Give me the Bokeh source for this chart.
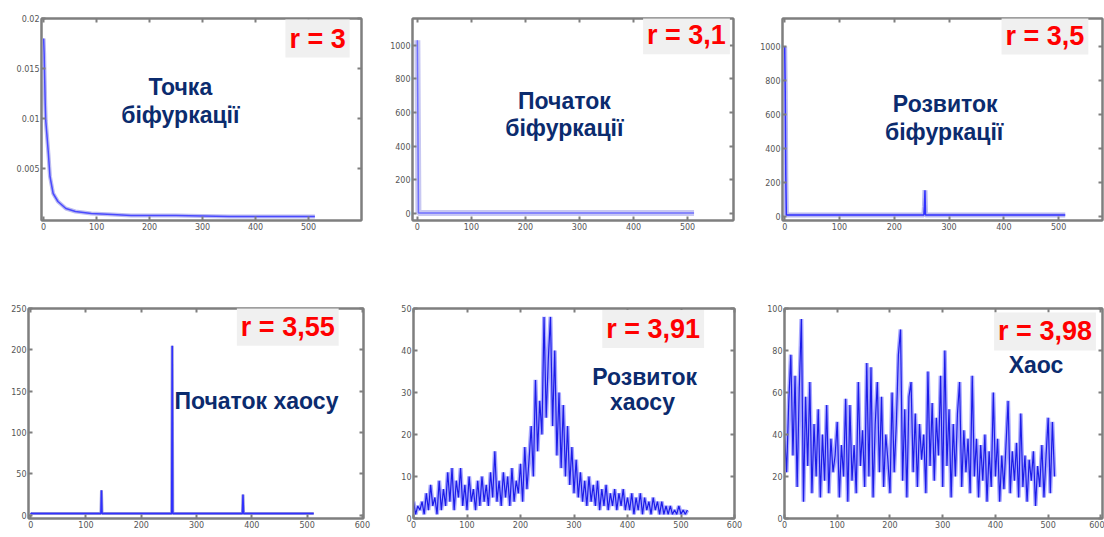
from bokeh.plotting import figure
from bokeh.models import (Range1d, FixedTicker, LinearAxis, Label,
                          NumeralTickFormatter, CustomJSTickFormatter)
from bokeh.layouts import column, row
from bokeh.embed import file_html
from bokeh.resources import INLINE

# ---------------- data (spectrum magnitude vs. frequency bin) ----------------
# r = 3
freq1 = [0, 1, 2, 3, 4, 6, 9, 12, 18, 27, 42, 60, 90, 130, 165, 250, 350, 512]
amp1 = [0.0180, 0.0165, 0.0140, 0.0115, 0.0098, 0.0085, 0.0065, 0.0042, 0.0025,
        0.0017, 0.0010, 0.0007, 0.0005, 0.0004, 0.0003, 0.0003, 0.0002, 0.0002]
# r = 3,1
freq2 = [0, 1, 2, 3, 512]
amp2 = [1030, 520, 3, 3, 3]
# r = 3,5
freq3 = [0, 1, 2, 3, 254, 255, 256, 257, 258, 512]
amp3 = [1000, 730, 240, 10, 10, 60, 155, 10, 10, 10]
# r = 3,55
freq4 = [0, 1, 127, 128, 129, 255, 256, 257, 383, 384, 385, 512]
amp4 = [3, 2, 2, 30, 2, 2, 205, 2, 2, 25, 2, 2]
# r = 3,91 (every 4th bin)
amp5 = [4, 1, 3, 2, 4, 1, 6, 2, 8, 3, 5, 1, 9, 2, 7, 3,
        11, 4, 12, 2, 9, 5, 12, 3, 8, 2, 10, 4, 7, 2, 9, 3,
        10, 4, 8, 3, 11, 5, 16, 4, 9, 3, 11, 5, 10, 3, 12, 4,
        9, 6, 13, 4, 17, 7, 14, 22, 10, 33, 16, 28, 20, 48, 24, 38,
        48, 22, 40, 15, 30, 12, 27, 10, 22, 8, 17, 6, 14, 5, 11, 4,
        9, 3, 10, 4, 8, 3, 9, 2, 7, 3, 8, 2, 6, 3, 7, 2,
        6, 3, 7, 2, 5, 2, 6, 1, 5, 2, 6, 1, 5, 2, 4, 1,
        5, 2, 4, 1, 4, 1, 3, 1, 3, 1, 2, 1, 3, 1, 2, 1,
        2]
freq5 = [4 * i for i in range(len(amp5))]
# r = 3,98 (every 4th bin)
amp6 = [40, 22, 55, 78, 30, 68, 15, 62, 95, 8, 58, 25, 65, 12, 45, 20,
        52, 10, 40, 18, 54, 12, 38, 22, 30, 46, 10, 35, 20, 57, 8, 54,
        18, 35, 12, 65, 25, 42, 15, 74, 20, 72, 10, 45, 65, 22, 58, 15,
        40, 28, 12, 60, 22, 45, 78, 90, 18, 52, 10, 58, 65, 22, 50, 15,
        45, 28, 40, 12, 70, 25, 55, 18, 48, 30, 68, 15, 80, 25, 52, 10,
        45, 20, 50, 65, 15, 42, 22, 38, 12, 68, 20, 38, 10, 35, 18, 40,
        8, 32, 15, 60, 20, 38, 8, 30, 14, 35, 56, 12, 32, 18, 36, 10,
        50, 15, 30, 8, 28, 18, 32, 6, 25, 15, 35, 10, 30, 48, 12, 46,
        20]
freq6 = [4 * i for i in range(len(amp6))]

xticks_a = [0, 100, 200, 300, 400, 500]
xticks_b = [0, 100, 200, 300, 400, 500, 600]
yticks1 = [0.005, 0.01, 0.015, 0.02]
yticks2 = [0, 200, 400, 600, 800, 1000]
yticks4 = [0, 50, 100, 150, 200, 250]
yticks5 = [0, 10, 20, 30, 40, 50]
yticks6 = [0, 20, 40, 60, 80, 100]

GRAY = "#7f7f7f"
NAVY = "#0b2b6e"
RED = "#ff0000"
FONT = "Liberation Sans"


def style_axis(ax, ticks, show):
    ax.ticker = FixedTicker(ticks=ticks)
    ax.major_tick_in = 4
    ax.major_tick_out = 0
    ax.minor_tick_in = 0
    ax.minor_tick_out = 0
    ax.major_tick_line_color = GRAY
    ax.major_tick_line_width = 2
    ax.axis_line_color = GRAY
    ax.axis_line_width = 2
    ax.major_label_text_color = "#555555"
    ax.major_label_text_font = "DejaVu Sans"
    ax.major_label_text_font_size = "8px"
    if show:
        ax.major_label_standoff = 2
    else:
        ax.major_label_standoff = 0
        ax.formatter = CustomJSTickFormatter(code="return ''")


def make_panel(w, h, bl, br, bt, bb, xr, yr, xt, yt, fmt=None):
    p = figure(width=w, height=h, x_range=Range1d(*xr), y_range=Range1d(*yr),
               output_backend="svg", toolbar_location=None,
               min_border_left=bl, min_border_right=br,
               min_border_top=bt, min_border_bottom=bb)
    p.grid.visible = False
    p.outline_line_color = GRAY
    p.outline_line_width = 2
    p.background_fill_color = "white"
    p.border_fill_color = "white"
    xa = p.xaxis[0]
    ya = p.yaxis[0]
    style_axis(xa, xt, True)
    style_axis(ya, yt, True)
    if fmt is not None:
        ya.formatter = fmt
    top = LinearAxis()
    style_axis(top, xt, False)
    p.add_layout(top, "above")
    right = LinearAxis()
    style_axis(right, yt, False)
    p.add_layout(right, "right")
    return p


def draw(p, x, y, uw, uc, ow, oc):
    p.line(x, y, line_width=uw, line_color=uc)
    p.line(x, y, line_width=ow, line_color=oc)


def label(p, x, y, text, size, color, align="center", bg=None):
    lb = Label(x=x, y=y, text=text, text_font=FONT, text_font_size=size,
               text_font_style="bold", text_color=color, text_align=align,
               text_baseline="alphabetic", y_offset=9)
    if bg is not None:
        lb.background_fill_color = bg
        lb.padding = 4
    p.add_layout(lb)


# ---------------- panels ----------------
p1 = make_panel(385, 284, 41, 24, 18, 64, (-4, 600), (-0.0002, 0.02), xticks_a, yticks1,
                NumeralTickFormatter(format="0.[000]"))
draw(p1, freq1, amp1, 4, "#bcbcf0", 1.5, "#4a4aff")
label(p1, 258, 0.0123, "Точка", "23px", NAVY)
label(p1, 258, 0.0095, "біфуркації", "23px", NAVY)
label(p1, 517, 0.0171, "r = 3", "27px", RED, bg="#f0f0f0")

p2 = make_panel(372, 284, 27, 24, 18, 62, (-9, 585), (-41, 1159), xticks_a, yticks2)
draw(p2, freq2, amp2, 6, "#c8c8f2", 1.5, "#7070ff")
label(p2, 272, 618, "Початок", "23px", NAVY)
label(p2, 272, 453, "біфуркації", "23px", NAVY)
label(p2, 498, 1006, "r = 3,1", "27px", RED, bg="#f0f0f0")

p3 = make_panel(347, 284, 24, 2, 17, 57, (-4, 580), (-23, 1164), xticks_a, yticks2)
draw(p3, freq3, amp3, 5, "#b8b8f0", 1.5, "#3030ff")
label(p3, 293, 610, "Розвиток", "23px", NAVY)
label(p3, 291, 446, "біфуркації", "23px", NAVY)
label(p3, 475, 1011, "r = 3,5", "27px", RED, bg="#f0f0f0")

p4 = make_panel(385, 253, 28, 22, 24, 19, (-4, 602), (-4, 250), xticks_b, yticks4)
draw(p4, freq4, amp4, 3, "#9a9ad8", 1.5, "#3030ff")
label(p4, 260, 126.7, "Початок хаосу", "23px", NAVY, align="left")
label(p4, 465, 217, "r = 3,55", "27px", RED, bg="#f0f0f0")

p5 = make_panel(372, 253, 28, 23, 19, 17, (0, 600), (0, 50), xticks_b, yticks5)
draw(p5, freq5, amp5, 4, "#a8a8ff", 1.2, "#1c1ce8")
label(p5, 432, 31.6, "Розвиток", "23px", NAVY)
label(p5, 428, 25.6, "хаосу", "23px", NAVY)
label(p5, 448, 43, "r = 3,91", "27px", RED, bg="#f0f0f0")

p6 = make_panel(347, 253, 27, 2, 24, 15, (0, 603), (0, 100), xticks_b, yticks6)
draw(p6, freq6, amp6, 4, "#a8a8ff", 1.2, "#1c1ce8")
label(p6, 477, 69, "Хаос", "23px", NAVY)
label(p6, 494, 84.8, "r = 3,98", "27px", RED, bg="#f0f0f0")

layout = column(row(p1, p2, p3), row(p4, p5, p6))

open("out.html", "w").write(file_html(layout, INLINE))
